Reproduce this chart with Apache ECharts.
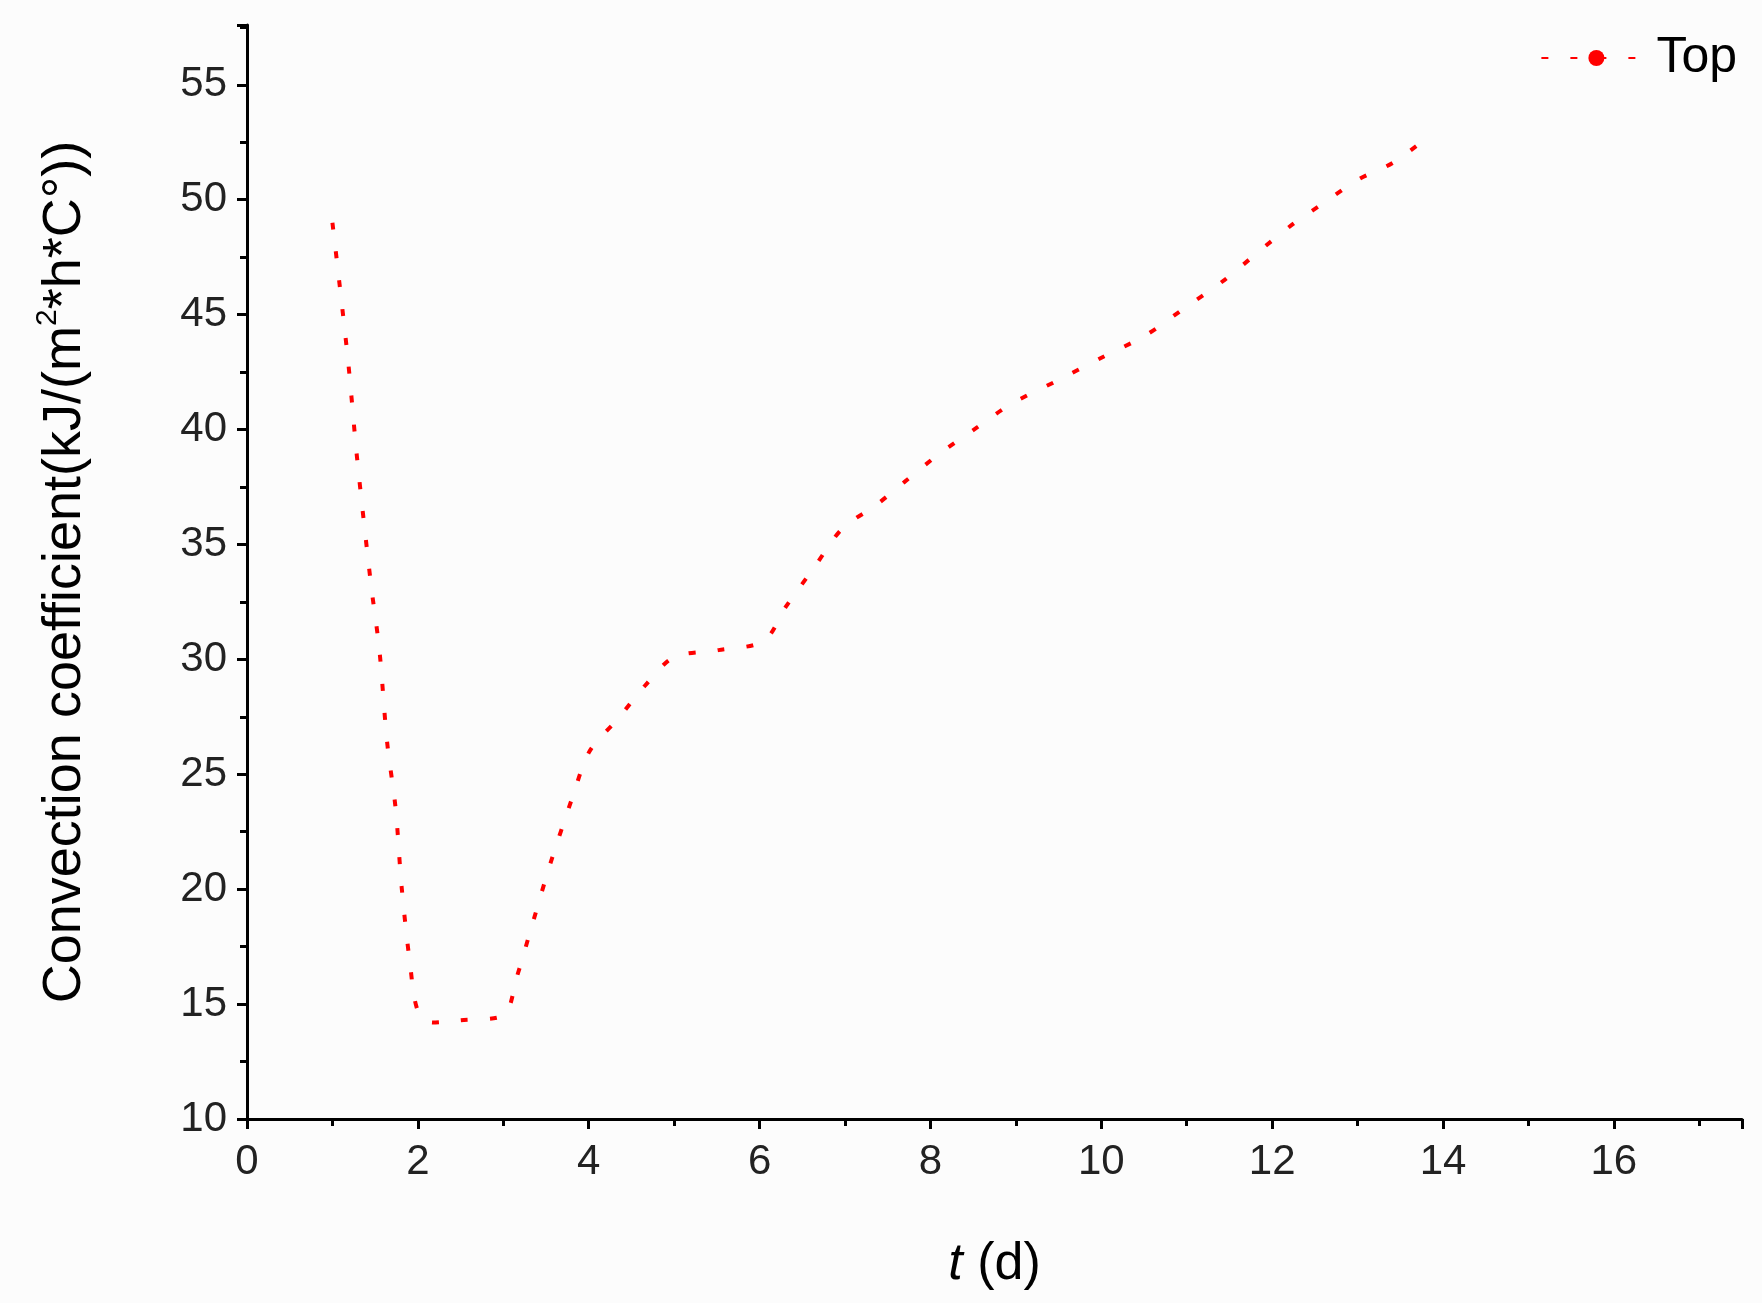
<!DOCTYPE html>
<html><head><meta charset="utf-8">
<script src="https://cdn.jsdelivr.net/npm/echarts@6/dist/echarts.min.js"></script>
<style>html,body{margin:0;background:#fcfcfc}#c{width:1762px;height:1303px}</style>
</head><body><div id="c"></div>
<script>
const tDays=[1.0,1.18,1.29,1.45,1.55,1.64,1.74,1.81,1.91,2.0,2.17,2.5,3.0,3.16,3.35,3.55,3.81,4.01,4.34,4.67,5.0,5.52,6.05,6.31,6.64,6.97,7.36,7.69,8.09,8.55,8.94,9.47,9.99,10.52,10.98,11.44,11.83,12.23,12.62,13.02,13.41,13.78];
const topCoef=[49,43.1,38.7,33.3,30.4,26.4,23.5,20.1,16.7,14.7,14.2,14.3,14.5,16.2,18.6,21.1,24.0,26.0,27.4,28.9,30.1,30.4,30.8,32.3,34.0,35.7,36.7,37.7,38.9,40.1,41.1,42.1,43.1,44.1,45.3,46.5,47.7,48.9,49.9,50.9,51.6,52.6];
const chart=echarts.init(document.getElementById('c'));
const F='Liberation Sans, Arial, sans-serif';
chart.setOption({
 backgroundColor:'#fcfcfc',
 animation:false,
 grid:{left:247,right:20,top:25,bottom:184},
 legend:{right:20,top:28,itemWidth:110,itemHeight:20,itemGap:20,textStyle:{fontSize:50,fontFamily:F,color:'#000'},data:['Top']},
 xAxis:{type:'value',min:0,max:17.5,interval:2,
  name:'{i|t} (d)',nameLocation:'middle',nameGap:120,
  nameTextStyle:{fontSize:52,fontFamily:F,color:'#000',rich:{i:{fontStyle:'italic',fontSize:52,fontFamily:F}}},
  axisLine:{lineStyle:{color:'#000',width:3}},
  axisTick:{length:10,lineStyle:{width:3,color:'#000'}},
  minorTick:{show:true,splitNumber:2,length:7,lineStyle:{width:3,color:'#000'}},
  axisLabel:{fontSize:42,fontFamily:F,color:'#222',margin:22,showMaxLabel:false},
  splitLine:{show:false}},
 yAxis:{type:'value',min:10,max:57.6,interval:5,
  name:'Convection coefficient(kJ/(m{s|2}*h*C°))',nameLocation:'middle',nameGap:150,
  nameTextStyle:{fontSize:54,fontFamily:F,color:'#000',rich:{s:{fontSize:30,verticalAlign:'bottom',padding:[0,0,34,0],fontFamily:F}}},
  axisLine:{lineStyle:{color:'#000',width:3}},
  axisTick:{length:10,lineStyle:{width:3,color:'#000'}},
  minorTick:{show:true,splitNumber:2,length:7,lineStyle:{width:3,color:'#000'}},
  axisLabel:{fontSize:42,fontFamily:F,color:'#222',margin:20,showMaxLabel:false},
  splitLine:{show:false}},
 series:[{name:'Top',type:'line',data:tDays.map((t,i)=>[t,topCoef[i]]),showSymbol:false,smooth:0.3,symbol:'none',
  lineStyle:{color:'#ff0000',width:4,type:[7,22]},itemStyle:{color:'#ff0000'}}]
});
</script></body></html>
